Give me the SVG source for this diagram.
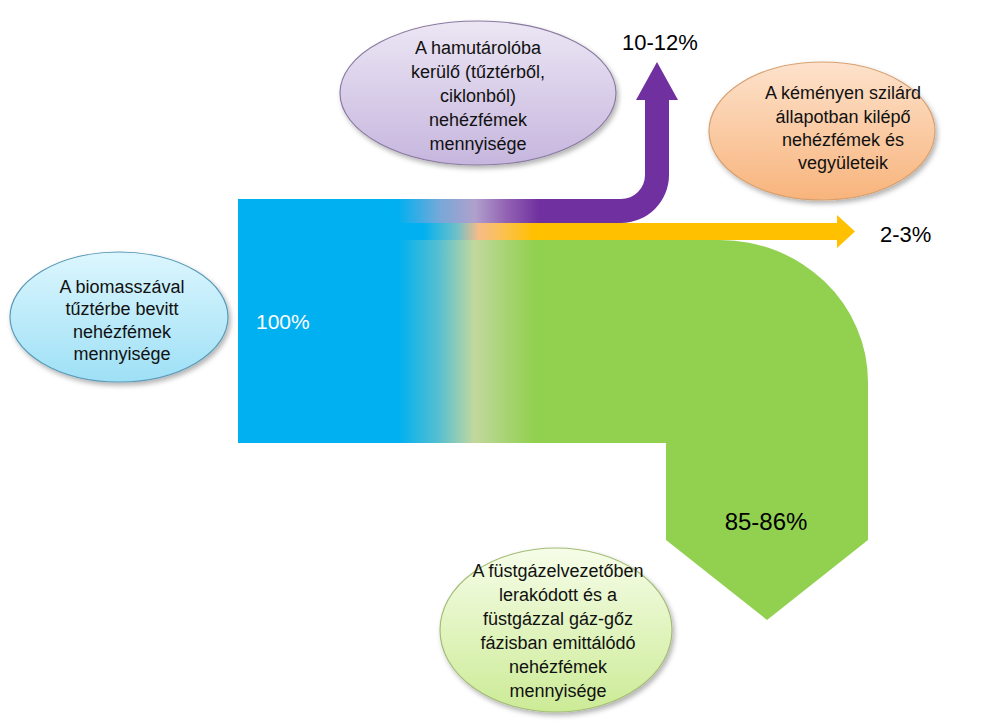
<svg xmlns="http://www.w3.org/2000/svg" width="1005" height="726" viewBox="0 0 1005 726">
<style>
.lbl{font-family:"Liberation Sans",Arial,sans-serif;font-size:18px;fill:#111;text-anchor:middle}
.pct{font-family:"Liberation Sans",Arial,sans-serif;font-size:22px;fill:#000}
.ell{stroke-width:1.2;filter:url(#sh)}
</style>
<defs>
<filter id="sh" x="-10%" y="-10%" width="125%" height="130%">
<feDropShadow dx="2" dy="3" stdDeviation="2.5" flood-color="#000" flood-opacity="0.3"/>
</filter>
<linearGradient id="gP" gradientUnits="userSpaceOnUse" x1="238" y1="0" x2="669" y2="0">
<stop offset="0" stop-color="#00b0f0"/>
<stop offset="0.37" stop-color="#00b0f0"/>
<stop offset="0.47" stop-color="#78a8d8"/>
<stop offset="0.55" stop-color="#b0a0cc"/>
<stop offset="0.62" stop-color="#9464b4"/>
<stop offset="0.70" stop-color="#7030a0"/>
<stop offset="1" stop-color="#7030a0"/>
</linearGradient>
<linearGradient id="gO" gradientUnits="userSpaceOnUse" x1="238" y1="0" x2="855" y2="0">
<stop offset="0" stop-color="#00b0f0"/>
<stop offset="0.30" stop-color="#00b0f0"/>
<stop offset="0.355" stop-color="#70c0c8"/>
<stop offset="0.39" stop-color="#f6bc88"/>
<stop offset="0.43" stop-color="#fcc050"/>
<stop offset="0.48" stop-color="#ffc000"/>
<stop offset="1" stop-color="#ffc000"/>
</linearGradient>
<linearGradient id="gG" gradientUnits="userSpaceOnUse" x1="238" y1="0" x2="868" y2="0">
<stop offset="0" stop-color="#00b0f0"/>
<stop offset="0.255" stop-color="#00b0f0"/>
<stop offset="0.32" stop-color="#58c0d0"/>
<stop offset="0.375" stop-color="#c2d89e"/>
<stop offset="0.42" stop-color="#aad478"/>
<stop offset="0.47" stop-color="#92d050"/>
<stop offset="1" stop-color="#92d050"/>
</linearGradient>
<linearGradient id="eB" x1="0" y1="0" x2="0" y2="1">
<stop offset="0" stop-color="#dcf6fe"/>
<stop offset="1" stop-color="#9ee0f6"/>
</linearGradient>
<linearGradient id="eP" x1="0" y1="0" x2="0" y2="1">
<stop offset="0" stop-color="#ece6f4"/>
<stop offset="1" stop-color="#c6b6de"/>
</linearGradient>
<linearGradient id="eO" x1="0" y1="0" x2="0" y2="1">
<stop offset="0" stop-color="#fde2cc"/>
<stop offset="1" stop-color="#f8b47c"/>
</linearGradient>
<linearGradient id="eG" x1="0" y1="0" x2="0" y2="1">
<stop offset="0" stop-color="#f6fde8"/>
<stop offset="1" stop-color="#cceb96"/>
</linearGradient>
</defs>
<rect width="1005" height="726" fill="#fff"/>
<g id="connectors">
<path id="flow-green" d="M238,240 H720 A148,142 0 0 1 868,382 V540 L767,620 L666,540 V443 H238 Z" fill="url(#gG)"/>
<path id="flow-orange" d="M238,223 H837 V215 L855,231.5 L837,248 V240 H238 Z" fill="url(#gO)"/>
<path id="flow-purple" d="M238,199 H621 A24,24 0 0 0 645,175 V100 H636 L657,62 L678,100 H669 V175 A48,48 0 0 1 621,223 H238 Z" fill="url(#gP)"/>
</g>
<g id="label-100">
<text x="256" y="329" style="font-family:'Liberation Sans',Arial,sans-serif;font-size:21px;fill:#fff">100%</text>
</g>
<g id="label-10-12">
<text class="pct" x="622" y="50">10-12%</text>
</g>
<g id="label-2-3">
<text class="pct" x="880" y="242">2-3%</text>
</g>
<g id="label-85-86">
<text x="766" y="530" style="font-family:'Liberation Sans',Arial,sans-serif;font-size:24px;fill:#000;text-anchor:middle">85-86%</text>
</g>
<g id="node-input">
<ellipse class="ell" cx="119" cy="317" rx="109" ry="65" fill="url(#eB)" stroke="#5a9ab8"/>
<text class="lbl"><tspan x="122" y="293">A biomasszával</tspan><tspan x="122" y="315">tűztérbe bevitt</tspan><tspan x="122" y="338">nehézfémek</tspan><tspan x="122" y="360">mennyisége</tspan></text>
</g>
<g id="node-ash">
<ellipse class="ell" cx="478" cy="93" rx="138" ry="72" fill="url(#eP)" stroke="#8a7aa0"/>
<text class="lbl"><tspan x="478" y="54">A hamutárolóba</tspan><tspan x="478" y="78">kerülő (tűztérből,</tspan><tspan x="478" y="102">ciklonból)</tspan><tspan x="478" y="126">nehézfémek</tspan><tspan x="478" y="150">mennyisége</tspan></text>
</g>
<g id="node-chimney">
<ellipse class="ell" cx="822" cy="131" rx="113" ry="69" fill="url(#eO)" stroke="#d8a070"/>
<text class="lbl"><tspan x="843" y="99">A kéményen szilárd</tspan><tspan x="843" y="123">állapotban kilépő</tspan><tspan x="843" y="146">nehézfémek és</tspan><tspan x="843" y="169">vegyületeik</tspan></text>
</g>
<g id="node-fluegas">
<ellipse class="ell" cx="556" cy="630" rx="116" ry="82" fill="url(#eG)" stroke="#a4bc78"/>
<text class="lbl"><tspan x="558" y="577">A füstgázelvezetőben</tspan><tspan x="558" y="601">lerakódott és a</tspan><tspan x="558" y="625">füstgázzal gáz-gőz</tspan><tspan x="558" y="649">fázisban emittálódó</tspan><tspan x="558" y="673">nehézfémek</tspan><tspan x="558" y="697">mennyisége</tspan></text>
</g>
</svg>
